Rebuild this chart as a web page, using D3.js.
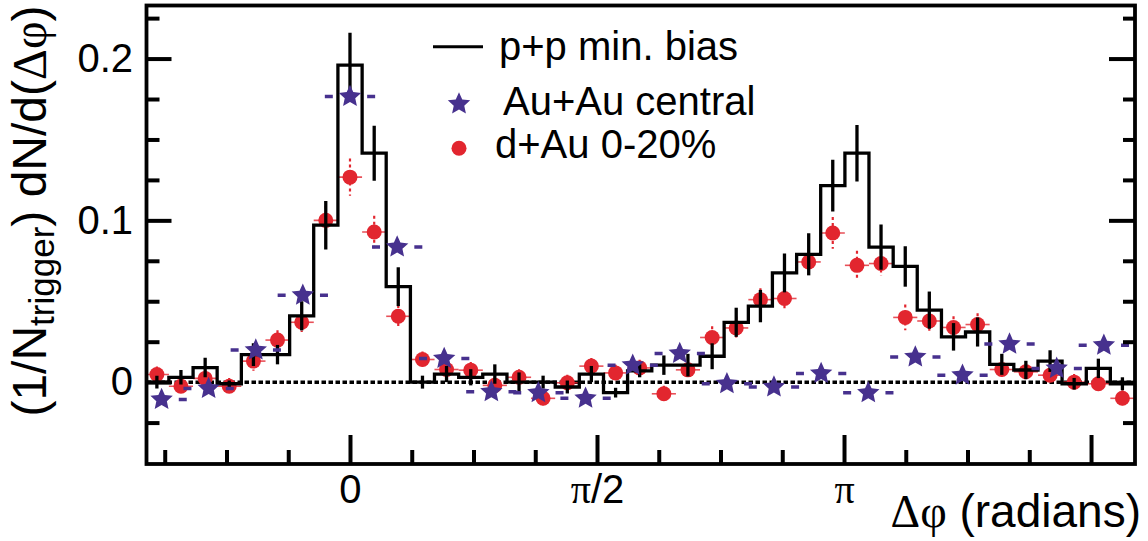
<!DOCTYPE html>
<html>
<head>
<meta charset="utf-8">
<script src="https://cdn.jsdelivr.net/npm/d3@7"></script>
<style>
  body { margin: 0; background: #fff; }
  svg text { fill: #000; }
</style>
</head>
<body>
<svg id="chart" width="1148" height="541"></svg>
<script>
// p+p min. bias histogram: bin centres (rad), contents, errors
var phiPP = [-1.228, -1.075, -0.921, -0.768, -0.614, -0.461, -0.307, -0.154, 0,
  0.154, 0.307, 0.461, 0.614, 0.768, 0.921, 1.075, 1.228, 1.382, 1.535, 1.689,
  1.842, 1.996, 2.149, 2.303, 2.456, 2.610, 2.763, 2.917, 3.070, 3.224, 3.377,
  3.531, 3.684, 3.838, 3.991, 4.145, 4.298, 4.452, 4.605, 4.759, 4.912];
var ppVal = [0.000, 0.003, 0.009, -0.001, 0.017, 0.017, 0.041, 0.097, 0.196,
  0.1415, 0.059, 0.000, 0.005, 0.003, 0.005, 0.000, 0.000, -0.003, 0.005, -0.0065,
  0.007, 0.0105, 0.0105, 0.016, 0.037, 0.047, 0.0675, 0.079, 0.1215, 0.1415, 0.0835,
  0.0715, 0.0445, 0.028, 0.031, 0.011, 0.0075, 0.013, -0.001, 0.0085, -0.001];
var ppErr = [0.004, 0.0045, 0.006, 0.002, 0.007, 0.006, 0.009, 0.015, 0.02,
  0.017, 0.012, 0.004, 0.005, 0.005, 0.006, 0.006, 0.004, 0.004, 0.005, 0.003,
  0.004, 0.006, 0.007, 0.008, 0.009, 0.010, 0.012, 0.013, 0.016, 0.0175, 0.014,
  0.0125, 0.0115, 0.0085, 0.009, 0.0065, 0.0057, 0.0067, 0.0036, 0.006, 0.004];
var binWidth = 0.1535;

// d+Au 0-20% (same bin centres as p+p)
var dAuVal = [0.0047, -0.0025, 0.0023, -0.0025, 0.013, 0.026, 0.037, 0.100, 0.1267,
  0.0928, 0.0407, 0.014, 0.0078, 0.0074, -0.002, 0.003, -0.010, -0.0004, 0.0099, 0.0057,
  0.0088, -0.0072, 0.0076, 0.0276, 0.0335, 0.051, 0.0517, 0.0743, 0.0922, 0.0722, 0.0733,
  0.040, 0.0378, 0.0338, 0.0356, 0.0078, 0.0064, 0.0043, 0.000, -0.001, -0.010];
var dAuErr = [0.005, 0.005, 0.005, 0.005, 0.006, 0.006, 0.006, 0.009, 0.0115,
  0.010, 0.007, 0.005, 0.005, 0.005, 0.005, 0.005, 0.005, 0.005, 0.005, 0.005,
  0.005, 0.005, 0.005, 0.007, 0.007, 0.007, 0.007, 0.008, 0.0098, 0.009, 0.0075,
  0.008, 0.007, 0.007, 0.007, 0.005, 0.005, 0.005, 0.005, 0.005, 0.005];

// Au+Au central
var phiAuAu = [-1.198, -0.899, -0.599, -0.300, 0, 0.300, 0.599, 0.899, 1.198, 1.498,
  1.798, 2.097, 2.397, 2.696, 2.996, 3.296, 3.595, 3.895, 4.194, 4.494, 4.794];
var auAuVal = [-0.0107, -0.0039, 0.0198, 0.0537, 0.1765, 0.0835, 0.0146, -0.006, -0.0066, -0.010,
  0.0105, 0.0177, -0.001, -0.003, 0.0054, -0.0066, 0.0156, 0.0043, 0.0235, 0.0085, 0.0228];
var auAuHalfWidth = 0.16;

// axes
var xMajorTicks = [0, Math.PI / 2, Math.PI, 3 * Math.PI / 2];
var xTickLabels = ["0", "π/2", "π", ""];
var xMinorSteps = [-3, -2, -1, 1, 2, 3, 5, 6, 7, 9, 10, 11]; // multiples of pi/8
var yMajorTicks = [0, 0.1, 0.2];
var yTickLabels = ["0", "0.1", "0.2"];
var yMinorTicks = [-0.025, 0.025, 0.05, 0.075, 0.125, 0.15, 0.175, 0.225];

var sans = '"Liberation Sans", Arial, Helvetica, sans-serif';
var serif = '"Liberation Serif", "DejaVu Serif", "Times New Roman", serif';
var red = "#e2262f", purple = "#47318e";

var svg = d3.select("#chart");
var frame = { left: 146.5, right: 1135, top: 5.5, bottom: 464 };

var x = d3.scaleLinear().domain([-1.294, 4.992]).range([frame.left, frame.right]);
var y = d3.scaleLinear().domain([-0.0506, 0.2328]).range([frame.bottom, frame.top]);

// fatter five-point star, like the ROOT marker
var rootStar = {
  draw: function (ctx, size) {
    var R = Math.sqrt(size / 1.3), r = R * 0.47;
    for (var i = 0; i < 10; i++) {
      var a = -Math.PI / 2 + i * Math.PI / 5, rr = i % 2 ? r : R;
      if (i === 0) ctx.moveTo(rr * Math.cos(a), rr * Math.sin(a));
      else ctx.lineTo(rr * Math.cos(a), rr * Math.sin(a));
    }
    ctx.closePath();
  }
};

svg.append("defs").append("clipPath").attr("id", "clip")
  .append("rect")
  .attr("x", frame.left).attr("y", frame.top)
  .attr("width", frame.right - frame.left).attr("height", frame.bottom - frame.top);

var plot = svg.append("g").attr("clip-path", "url(#clip)");

// dotted zero line
plot.append("line")
  .attr("x1", x.range()[0]).attr("x2", x.range()[1])
  .attr("y1", y(0)).attr("y2", y(0))
  .attr("stroke", "#000").attr("stroke-width", 3.5)
  .attr("stroke-dasharray", "4.5,2.5");

// d+Au points
var dau = plot.append("g");
dau.selectAll("line.ey").data(phiPP).enter().append("line")
  .attr("class", "ey")
  .attr("x1", function (d) { return x(d); })
  .attr("x2", function (d) { return x(d); })
  .attr("y1", function (d, i) { return y(dAuVal[i] + dAuErr[i]); })
  .attr("y2", function (d, i) { return y(dAuVal[i] - dAuErr[i]); })
  .attr("stroke", red).attr("stroke-width", 2.2).attr("stroke-dasharray", "3,3");
dau.selectAll("line.ex").data(phiPP).enter().append("line")
  .attr("class", "ex")
  .attr("x1", function (d) { return x(d - binWidth / 2); })
  .attr("x2", function (d) { return x(d + binWidth / 2); })
  .attr("y1", function (d, i) { return y(dAuVal[i]); })
  .attr("y2", function (d, i) { return y(dAuVal[i]); })
  .attr("stroke", red).attr("stroke-width", 1.6).attr("stroke-opacity", 0.8);
dau.selectAll("circle").data(phiPP).enter().append("circle")
  .attr("cx", function (d) { return x(d); })
  .attr("cy", function (d, i) { return y(dAuVal[i]); })
  .attr("r", 7.5)
  .attr("fill", red);

// p+p histogram
var steps = phiPP.map(function (d, i) { return [d - binWidth / 2, ppVal[i]]; });
steps.push([phiPP[phiPP.length - 1] + binWidth / 2, ppVal[ppVal.length - 1]]);
plot.append("path")
  .attr("d", d3.line()
    .curve(d3.curveStepAfter)
    .x(function (d) { return x(d[0]); })
    .y(function (d) { return y(d[1]); })(steps))
  .attr("fill", "none").attr("stroke", "#000").attr("stroke-width", 3.3);
plot.append("g").selectAll("line").data(phiPP).enter().append("line")
  .attr("x1", function (d) { return x(d); })
  .attr("x2", function (d) { return x(d); })
  .attr("y1", function (d, i) { return y(ppVal[i] + ppErr[i]); })
  .attr("y2", function (d, i) { return y(ppVal[i] - ppErr[i]); })
  .attr("stroke", "#000").attr("stroke-width", 3.3);

// Au+Au stars
var star = d3.symbol(rootStar, 180);
var aa = plot.append("g");
var dashLen = x(2 * auAuHalfWidth) - x(0);
aa.selectAll("line").data(phiAuAu).enter().append("line")
  .attr("x1", function (d) { return x(d - auAuHalfWidth); })
  .attr("x2", function (d) { return x(d + auAuHalfWidth); })
  .attr("y1", function (d, i) { return y(auAuVal[i]); })
  .attr("y2", function (d, i) { return y(auAuVal[i]); })
  .attr("stroke", purple).attr("stroke-width", 3.5)
  .attr("stroke-dasharray", "8," + (dashLen - 16) + ",8");
aa.selectAll("path").data(phiAuAu).enter().append("path")
  .attr("d", star)
  .attr("transform", function (d, i) { return "translate(" + x(d) + "," + y(auAuVal[i]) + ")"; })
  .attr("fill", purple);

// Axes
var xAxis = svg.append("g").attr("transform", "translate(0," + frame.bottom + ")")
  .call(d3.axisBottom(x).tickValues(xMajorTicks).tickSize(-29).tickPadding(10.5)
    .tickFormat(function (d, i) { return xTickLabels[i]; }));
svg.append("g").attr("transform", "translate(0," + frame.bottom + ")")
  .call(d3.axisBottom(x).tickValues(xMinorSteps.map(function (k) { return k * Math.PI / 8; }))
    .tickSize(-14).tickFormat(""));
var yAxis = svg.append("g").attr("transform", "translate(" + frame.left + ",0)")
  .call(d3.axisLeft(y).tickValues(yMajorTicks).tickSize(-25).tickPadding(13.5)
    .tickFormat(function (d, i) { return yTickLabels[i]; }));
svg.append("g").attr("transform", "translate(" + frame.left + ",0)")
  .call(d3.axisLeft(y).tickValues(yMinorTicks).tickSize(-13).tickFormat(""));
svg.append("g").attr("transform", "translate(" + frame.right + ",0)")
  .call(d3.axisRight(y).tickValues(yMajorTicks).tickSize(-26).tickFormat(""));
svg.append("g").attr("transform", "translate(" + frame.right + ",0)")
  .call(d3.axisRight(y).tickValues(yMinorTicks).tickSize(-12).tickFormat(""));

svg.selectAll(".domain").remove();
svg.selectAll(".tick line").attr("stroke", "#000").attr("stroke-width", 4);
svg.selectAll(".tick text").attr("font-family", sans).attr("font-size", 40).attr("fill", "#000");

// pi labels use a serif glyph
xAxis.selectAll(".tick text").each(function (d, i) {
  var lab = xTickLabels[i];
  if (lab.indexOf("π") < 0) return;
  var t = d3.select(this).text(null);
  t.append("tspan").attr("font-family", serif).text("π");
  if (lab.length > 1) t.append("tspan").text(lab.slice(1));
});

// frame
svg.append("rect")
  .attr("x", frame.left).attr("y", frame.top)
  .attr("width", frame.right - frame.left).attr("height", frame.bottom - frame.top)
  .attr("fill", "none").attr("stroke", "#000").attr("stroke-width", 3.8);

// axis titles
var xt = svg.append("text")
  .attr("x", 1141).attr("y", 527)
  .attr("text-anchor", "end")
  .attr("font-family", sans).attr("font-size", 46);
xt.append("tspan").attr("font-family", serif).text("Δφ");
xt.append("tspan").text(" (radians)");

var yt = svg.append("text")
  .attr("transform", "translate(46,211) rotate(-90)")
  .attr("text-anchor", "middle")
  .attr("font-family", sans).attr("font-size", 48);
yt.append("tspan").text("(1/N");
yt.append("tspan").attr("font-size", 35).attr("dy", 8).text("trigger");
yt.append("tspan").attr("dy", -8).text(") dN/d(");
yt.append("tspan").attr("font-family", serif).text("Δφ");
yt.append("tspan").text(")");

// legend
var leg = svg.append("g").attr("font-family", sans).attr("font-size", 40);
leg.append("line")
  .attr("x1", 433).attr("x2", 483).attr("y1", 46.7).attr("y2", 46.7)
  .attr("stroke", "#000").attr("stroke-width", 3);
leg.append("text").attr("x", 499).attr("y", 60).text("p+p min. bias");
leg.append("path").attr("d", star).attr("transform", "translate(459,104)").attr("fill", purple);
leg.append("text").attr("x", 503).attr("y", 115).text("Au+Au central");
leg.append("circle").attr("cx", 459).attr("cy", 148.3).attr("r", 7.5).attr("fill", red);
leg.append("text").attr("x", 495).attr("y", 158.3).text("d+Au 0-20%");
</script>
</body>
</html>
